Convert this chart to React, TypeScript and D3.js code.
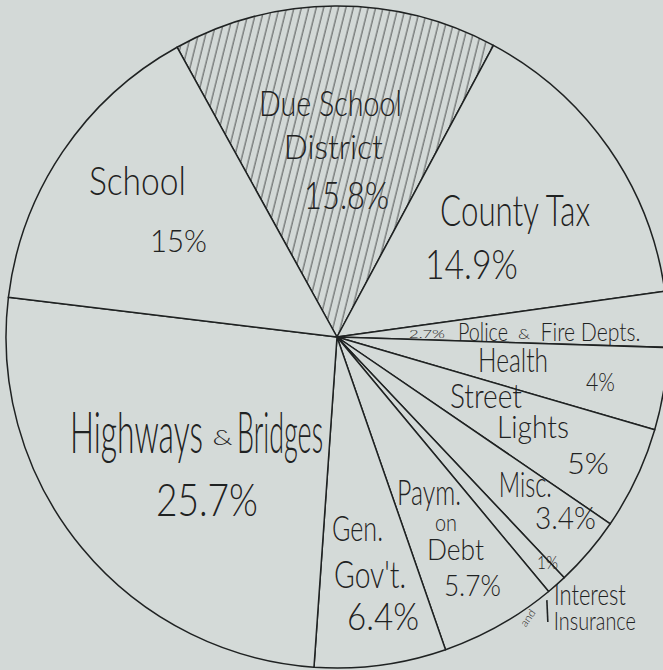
import { useEffect, useRef } from 'react';
import * as d3 from 'd3';

// budget shares, clockwise from the hatched slice
const categories = [
  'Due School District',
  'County Tax',
  'Police and Fire Depts.',
  'Health',
  'Street Lights',
  'Misc.',
  'Interest and Insurance',
  'Paym. on Debt',
  "Gen. Gov't.",
  'Highways and Bridges',
  'School',
];
const shares = [15.8, 14.9, 2.7, 4, 5, 3.4, 1, 5.7, 6.4, 25.7, 15];
const hatchedCategory = 'Due School District';

// hand lettering, placed relative to the pie centre in radius units
// [text, u, v (baseline), font size, width px, rotate]
const labels: [string, number, number, number, number, number?][] = [
  ['Due School', -0.02, -0.668, 36, 143],
  ['District', -0.011, -0.538, 33, 99],
  ['15.8%', 0.029, -0.387, 37, 85],
  ['School', -0.603, -0.429, 40, 97],
  ['15%', -0.479, -0.257, 32, 57],
  ['County Tax', 0.538, -0.335, 44, 150],
  ['14.9%', 0.406, -0.175, 41, 93],
  ['2.7%', 0.272, 0.002, 12, 36],
  ['Police', 0.441, 0.012, 25, 50],
  ['&', 0.565, 0.006, 14, 12],
  ['Fire Depts.', 0.766, 0.012, 25, 100],
  ['Health', 0.532, 0.106, 34, 70],
  ['4%', 0.796, 0.163, 26, 29],
  ['Street', 0.45, 0.215, 34, 72],
  ['Lights', 0.592, 0.305, 31, 72],
  ['5%', 0.758, 0.414, 30, 42],
  ['Misc.', 0.569, 0.483, 35, 53],
  ['3.4%', 0.69, 0.58, 32, 61],
  ['1%', 0.636, 0.701, 18, 21],
  ['Interest', 0.764, 0.81, 30, 72],
  ['and', 0.586, 0.855, 11, 18, -55],
  ['Insurance', 0.779, 0.885, 26, 82],
  ['Paym.', 0.278, 0.508, 36, 64],
  ['on', 0.329, 0.586, 24, 22],
  ['Debt', 0.358, 0.674, 30, 57],
  ['5.7%', 0.409, 0.782, 30, 57],
  ['Gen.', 0.062, 0.616, 36, 51],
  ["Gov't.", 0.1, 0.758, 38, 72],
  ['6.4%', 0.139, 0.885, 38, 72],
  ['Highways', -0.606, 0.35, 58, 133],
  ['&', -0.346, 0.326, 22, 20],
  ['Bridges', -0.172, 0.35, 58, 86],
  ['25.7%', -0.393, 0.541, 46, 102],
];

function App() {
  const ref = useRef<SVGSVGElement>(null);

  useEffect(() => {
    const width = 663;
    const height = 670;
    const cx = 337;
    const cy = 337;
    const radius = 331;
    const ink = '#1f2222';

    const svg = d3.select(ref.current).attr('width', width).attr('height', height);
    svg.selectAll('*').remove();

    svg.append('rect').attr('width', width).attr('height', height).attr('fill', '#d3d9d7');

    const start = (-28.9 * Math.PI) / 180;
    const pie = d3
      .pie<number>()
      .sort(null)
      .value(d => d)
      .startAngle(start)
      .endAngle(start + 2 * Math.PI);
    const arcs = pie(shares);
    const arc = d3.arc<d3.PieArcDatum<number>>().innerRadius(0).outerRadius(radius);

    const defs = svg.append('defs');
    const pat = defs
      .append('pattern')
      .attr('id', 'hatch')
      .attr('patternUnits', 'userSpaceOnUse')
      .attr('width', 7.2)
      .attr('height', 20)
      .attr('patternTransform', 'rotate(14)');
    pat
      .append('line')
      .attr('x1', 1)
      .attr('x2', 1)
      .attr('y1', 0)
      .attr('y2', 20)
      .attr('stroke', '#3a3c3c')
      .attr('stroke-width', 0.9);

    const g = svg.append('g').attr('transform', `translate(${cx},${cy})`);

    g.selectAll('path')
      .data(arcs)
      .join('path')
      .attr('d', arc)
      .attr('fill', (d, i) => (categories[i] === hatchedCategory ? 'url(#hatch)' : '#d4dad8'))
      .attr('stroke', ink)
      .attr('stroke-width', 1.5)
      .attr('stroke-linejoin', 'round');

    // small leader from "1%" to "Interest"
    g.append('line')
      .attr('x1', 0.634 * radius)
      .attr('y1', 0.795 * radius)
      .attr('x2', 0.637 * radius)
      .attr('y2', 0.861 * radius)
      .attr('stroke', ink)
      .attr('stroke-width', 1.6);

    g.selectAll('text')
      .data(labels)
      .join('text')
      .attr('transform', d => `translate(${d[1] * radius},${d[2] * radius}) rotate(${d[5] || 0})`)
      .attr('text-anchor', 'middle')
      .attr('font-family', 'Lato, "DejaVu Sans", sans-serif')
      .attr('font-weight', 300)
      .attr('font-size', d => d[3])
      .attr('textLength', d => d[4])
      .attr('lengthAdjust', 'spacingAndGlyphs')
      .attr('fill', ink)
      .text(d => d[0]);
  }, []);

  return (
    <svg
      ref={ref}
      style={{ position: 'absolute', left: 0, top: 0, display: 'block' }}
      role="img"
      aria-label="Tax distribution pie chart"
    />
  );
}

export default App;
